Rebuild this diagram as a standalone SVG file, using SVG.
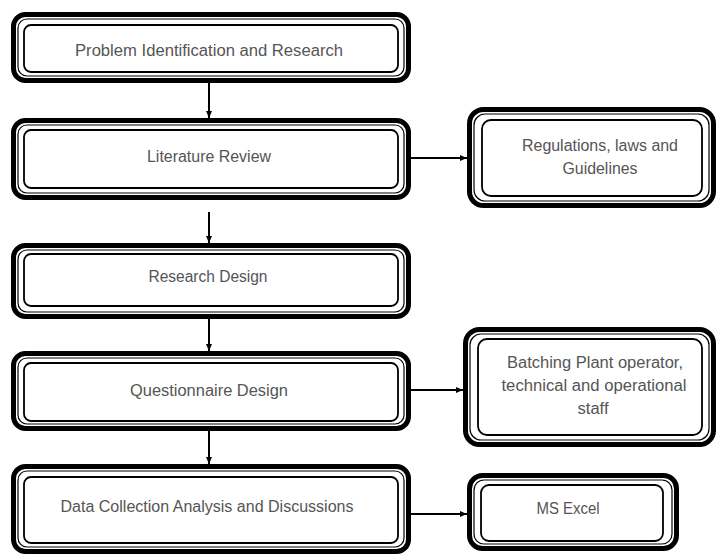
<svg xmlns="http://www.w3.org/2000/svg" width="717" height="554" viewBox="0 0 717 554">
<defs>
<marker id="ah" markerUnits="userSpaceOnUse" markerWidth="8" markerHeight="7" refX="7" refY="3" orient="auto">
<path d="M0,0 L7,3 L0,6 z" fill="#000"/>
</marker>
<style>
.o{fill:#fff;stroke:#000;stroke-width:5}
.t{fill:none;stroke:#000;stroke-width:1.2}
.i{fill:none;stroke:#000;stroke-width:1.8}
.c{stroke:#000;stroke-width:2;fill:none;marker-end:url(#ah)}
text{font-family:"Liberation Sans",Arial,sans-serif;font-size:16px;fill:#555;text-anchor:middle}
</style>
</defs>
<rect width="717" height="554" fill="#fff"/>
<g id="connectors">
<line class="c" x1="209" y1="83" x2="209" y2="118"/>
<line class="c" x1="209" y1="212" x2="209" y2="243"/>
<line class="c" x1="209" y1="319" x2="209" y2="351"/>
<line class="c" x1="209" y1="431" x2="209" y2="464"/>
<line class="c" x1="411" y1="158" x2="467" y2="158"/>
<line class="c" x1="411" y1="390" x2="463" y2="390"/>
<line class="c" x1="411" y1="514" x2="467" y2="514"/>
</g>
<g id="n1">
<rect class="o" x="13.5" y="14.5" width="395" height="66" rx="12"/>
<rect class="t" x="18" y="19" width="386" height="57" rx="9"/>
<rect class="i" x="24" y="25" width="374" height="47" rx="7"/>
<text x="209" y="56" textLength="268" lengthAdjust="spacingAndGlyphs">Problem Identification and Research</text>
</g>
<g id="n2">
<rect class="o" x="13.5" y="120.5" width="395" height="77" rx="12"/>
<rect class="t" x="18" y="125" width="386" height="68" rx="9"/>
<rect class="i" x="24" y="130" width="374" height="58" rx="7"/>
<text x="209" y="162" textLength="124" lengthAdjust="spacingAndGlyphs">Literature Review</text>
</g>
<g id="n3">
<rect class="o" x="13.5" y="245.5" width="395" height="71" rx="12"/>
<rect class="t" x="18" y="250" width="386" height="62" rx="9"/>
<rect class="i" x="24" y="254" width="374" height="52" rx="7"/>
<text x="208" y="282" textLength="119" lengthAdjust="spacingAndGlyphs">Research Design</text>
</g>
<g id="n4">
<rect class="o" x="13.5" y="353.5" width="395" height="75" rx="12"/>
<rect class="t" x="18" y="358" width="386" height="66" rx="9"/>
<rect class="i" x="24" y="363" width="374" height="58" rx="7"/>
<text x="209" y="396" textLength="158" lengthAdjust="spacingAndGlyphs">Questionnaire Design</text>
</g>
<g id="n5">
<rect class="o" x="13.5" y="466.5" width="395" height="85" rx="12"/>
<rect class="t" x="18" y="471" width="386" height="76" rx="9"/>
<rect class="i" x="24" y="477" width="374" height="66" rx="7"/>
<text x="207" y="512" textLength="293" lengthAdjust="spacingAndGlyphs">Data Collection Analysis and Discussions</text>
</g>
<g id="r1">
<rect class="o" x="469.5" y="109.5" width="244" height="96" rx="14"/>
<rect class="t" x="474" y="114" width="235" height="87" rx="11"/>
<rect class="i" x="482" y="120" width="220" height="76" rx="9"/>
<text x="600" y="151" textLength="156" lengthAdjust="spacingAndGlyphs">Regulations, laws and</text>
<text x="600" y="174" textLength="75" lengthAdjust="spacingAndGlyphs">Guidelines</text>
</g>
<g id="r2">
<rect class="o" x="465.5" y="329.5" width="248" height="115" rx="14"/>
<rect class="t" x="470" y="334" width="239" height="106" rx="11"/>
<rect class="i" x="478" y="339" width="224" height="96" rx="9"/>
<text x="595" y="368" textLength="176" lengthAdjust="spacingAndGlyphs">Batching Plant operator,</text>
<text x="594" y="391" textLength="185" lengthAdjust="spacingAndGlyphs">technical and operational</text>
<text x="593" y="414" textLength="31" lengthAdjust="spacingAndGlyphs">staff</text>
</g>
<g id="r3">
<rect class="o" x="469.5" y="475.5" width="207" height="73" rx="13"/>
<rect class="t" x="474" y="480" width="198" height="64" rx="10"/>
<rect class="i" x="481" y="485" width="182" height="56" rx="8"/>
<text x="568" y="514" textLength="63" lengthAdjust="spacingAndGlyphs">MS Excel</text>
</g>
</svg>
